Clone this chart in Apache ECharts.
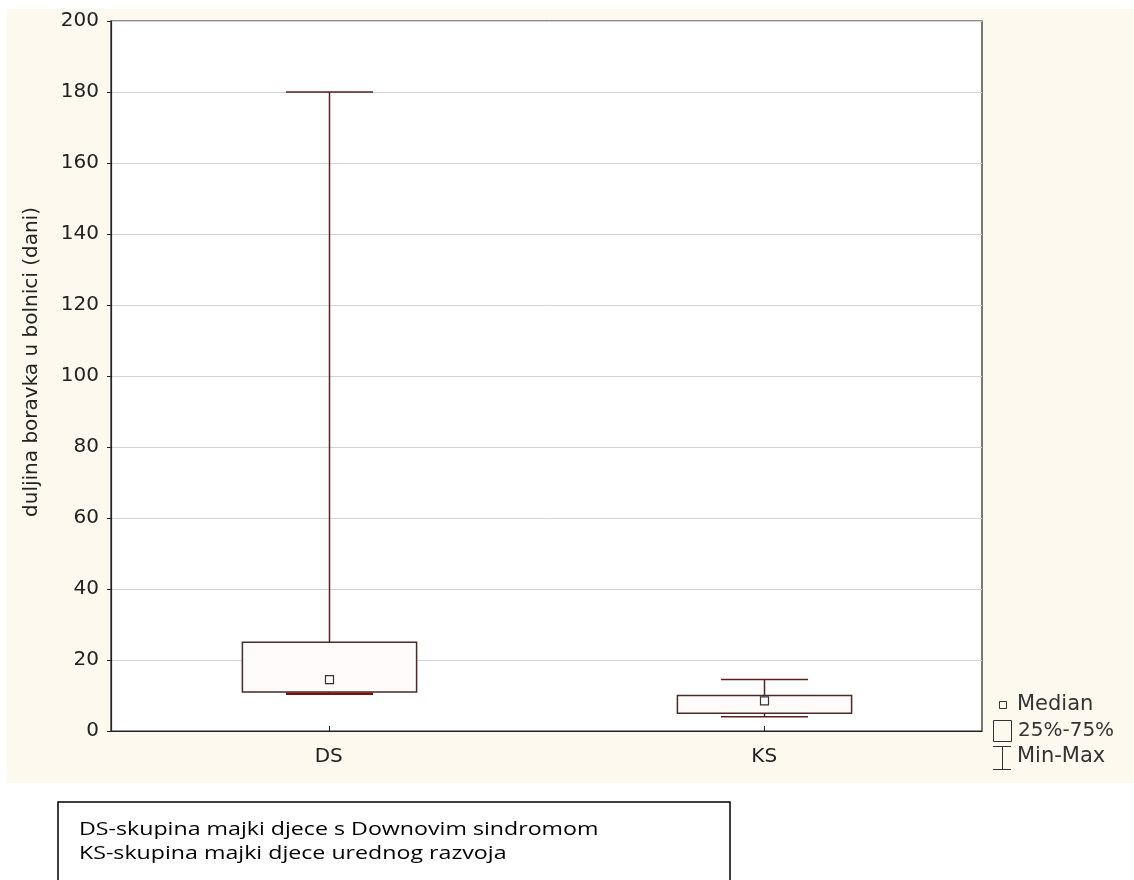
<!DOCTYPE html>
<html>
<head>
<meta charset="utf-8">
<script src="https://cdn.jsdelivr.net/npm/echarts@6/dist/echarts.min.js"></script>
<style>
  html, body { margin: 0; padding: 0; background: #ffffff; }
  #chart { width: 1134px; height: 880px; }
</style>
</head>
<body>
<div id="chart"></div>
<script>
const categories = ['DS', 'KS'];
const minVals = [10.5, 4];
const q1Vals = [11, 5];
const medianVals = [14.5, 8.5];
const q3Vals = [25, 10];
const maxVals = [180, 14.5];
const yAxisTitle = 'duljina boravka u bolnici (dani)';
const legendLabels = ['Median', '25%-75%', 'Min-Max'];
const noteLines = ['DS-skupina majki djece s Downovim sindromom', 'KS-skupina majki djece urednog razvoja'];

const boxData = categories.map((c, i) => [i, minVals[i], q1Vals[i], medianVals[i], q3Vals[i], maxVals[i]]);

const boxColor = '#4a2a2a';
const whiskerColor = '#5e1e1e';

function renderBox(params, api) {
  const idx = api.value(0);
  const band = api.size([1, 0])[0];
  const boxHalf = band * 0.2;
  const capHalf = band * 0.1;
  const pMin = api.coord([idx, api.value(1)]);
  const pQ1 = api.coord([idx, api.value(2)]);
  const pMed = api.coord([idx, api.value(3)]);
  const pQ3 = api.coord([idx, api.value(4)]);
  const pMax = api.coord([idx, api.value(5)]);
  const cx = Math.round(pMin[0]) + 0.5;
  const lineStyle = { stroke: whiskerColor, lineWidth: 1.5 };
  const sq = 4;
  return {
    type: 'group',
    children: [
      { type: 'line', shape: { x1: cx, y1: pMax[1], x2: cx, y2: pQ3[1] }, style: lineStyle },
      { type: 'line', shape: { x1: cx, y1: pQ1[1], x2: cx, y2: pMin[1] }, style: lineStyle },
      { type: 'line', shape: { x1: cx - capHalf, y1: pMax[1], x2: cx + capHalf, y2: pMax[1] }, style: lineStyle },
      { type: 'rect', shape: { x: cx - boxHalf, y: pQ3[1], width: boxHalf * 2, height: pQ1[1] - pQ3[1] },
        style: { fill: '#fffbfb', stroke: boxColor, lineWidth: 1.5 } },
      { type: 'line', shape: { x1: cx - capHalf, y1: pMin[1], x2: cx + capHalf, y2: pMin[1] },
        style: { stroke: idx === 0 ? '#7a1010' : whiskerColor, lineWidth: idx === 0 ? 2.5 : 1.5 } },
      { type: 'rect', shape: { x: cx - sq, y: pMed[1] - sq, width: sq * 2, height: sq * 2 },
        style: { fill: '#ffffff', stroke: '#333333', lineWidth: 1.2 } }
    ]
  };
}

const chart = echarts.init(document.getElementById('chart'), null, { renderer: 'canvas' });
const font = 'DejaVu Sans';
const noteScale = 1.22;
chart.setOption({
  backgroundColor: '#ffffff',
  animation: false,
  grid: {
    left: 111, right: 152, top: 21, bottom: 149,
    show: true, backgroundColor: '#ffffff', borderColor: '#222222', borderWidth: 1.2
  },
  xAxis: {
    type: 'category',
    data: categories,
    axisLine: { lineStyle: { color: '#222222', width: 1.2 } },
    axisTick: { show: true, inside: true, length: 5, alignWithLabel: true, lineStyle: { color: '#222222' } },
    axisLabel: { fontFamily: font, fontSize: 20, color: '#222222', margin: 16 },
    splitLine: { show: false }
  },
  yAxis: {
    type: 'value',
    min: 0, max: 200, interval: 20,
    axisLine: { show: true, lineStyle: { color: '#222222', width: 1.2 } },
    axisTick: { show: true, length: 4, lineStyle: { color: '#222222' } },
    axisLabel: { fontFamily: font, fontSize: 20, color: '#222222', margin: 12 },
    splitLine: { show: true, lineStyle: { color: '#d4d4d4', width: 1 } }
  },
  graphic: [
    { type: 'rect', z: -10, silent: true, shape: { x: 7, y: 9, width: 1127, height: 774 }, style: { fill: '#fdf9ef' } },
    { type: 'text', x: 32, y: 362, rotation: Math.PI / 2, z: 5,
      style: { text: yAxisTitle, font: '20px "DejaVu Sans"', fill: '#222222', textAlign: 'center', textVerticalAlign: 'middle' } },
    // legend
    { type: 'rect', z: 5, shape: { x: 999.5, y: 701.5, width: 7, height: 7 }, style: { fill: 'none', stroke: '#333333', lineWidth: 1 } },
    { type: 'text', z: 5, x: 1017, y: 705, style: { text: legendLabels[0], font: '21px "DejaVu Sans"', fill: '#333333', textVerticalAlign: 'middle' } },
    { type: 'rect', z: 5, shape: { x: 993.5, y: 720.5, width: 18, height: 21 }, style: { fill: 'none', stroke: '#333333', lineWidth: 1 } },
    { type: 'text', z: 5, x: 1018, y: 731, style: { text: legendLabels[1], font: '20px "DejaVu Sans"', fill: '#333333', textVerticalAlign: 'middle' } },
    { type: 'line', z: 5, shape: { x1: 993, y1: 746.5, x2: 1011, y2: 746.5 }, style: { stroke: '#333333', lineWidth: 1 } },
    { type: 'line', z: 5, shape: { x1: 1002.5, y1: 746.5, x2: 1002.5, y2: 769.5 }, style: { stroke: '#333333', lineWidth: 1 } },
    { type: 'line', z: 5, shape: { x1: 993, y1: 769.5, x2: 1011, y2: 769.5 }, style: { stroke: '#333333', lineWidth: 1 } },
    { type: 'text', z: 5, x: 1017, y: 757, style: { text: legendLabels[2], font: '21px "DejaVu Sans"', fill: '#333333', textVerticalAlign: 'middle' } },
    // note box
    { type: 'rect', z: 5, shape: { x: 58, y: 802, width: 672, height: 120 }, style: { fill: '#ffffff', stroke: '#000000', lineWidth: 1.5 } },
    { type: 'text', z: 6, x: 79, y: 830, scaleX: noteScale, style: { text: noteLines[0], font: '19px "Open Sans"', fill: '#000000', textVerticalAlign: 'middle' } },
    { type: 'text', z: 6, x: 79, y: 854, scaleX: noteScale, style: { text: noteLines[1], font: '19px "Open Sans"', fill: '#000000', textVerticalAlign: 'middle' } }
  ],
  series: [{
    type: 'custom',
    renderItem: renderBox,
    encode: { x: 0, y: [1, 2, 3, 4, 5] },
    data: boxData,
    z: 3
  }]
});
</script>
</body>
</html>
